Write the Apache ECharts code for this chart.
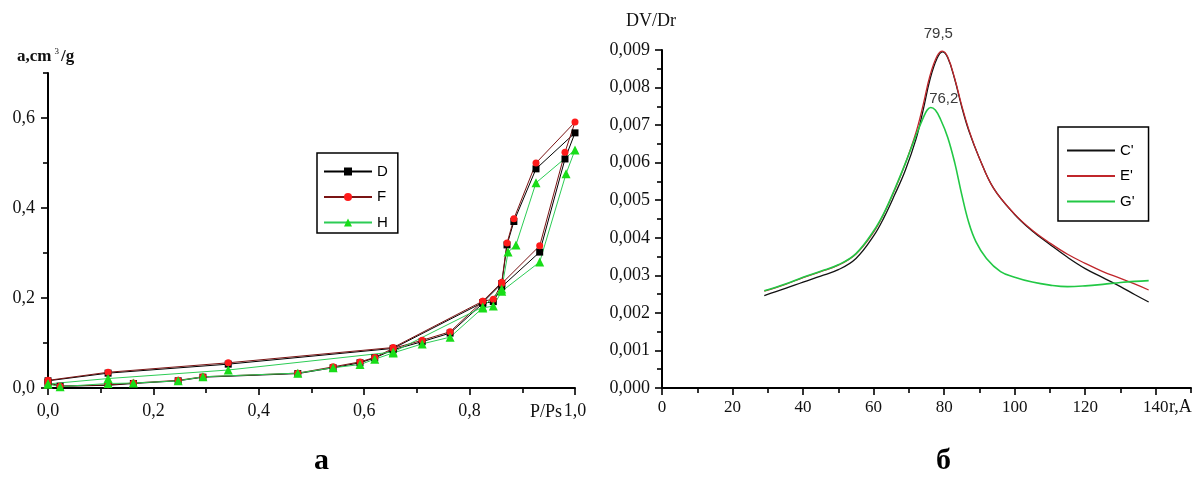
<!DOCTYPE html>
<html>
<head>
<meta charset="utf-8">
<script src="https://cdn.jsdelivr.net/npm/echarts@6/dist/echarts.min.js"></script>
<style>
  html, body { margin: 0; padding: 0; background: #fff; }
  #chart { width: 1203px; height: 482px; }
</style>
</head>
<body>
<div id="chart"></div>
<script>
// ---- Isotherms (panel a): relative pressure P/Ps and adsorbed volume a, cm3/g ----
// Each series runs the adsorption branch up to P/Ps = 1, then the desorption branch back.
const dP = [0, 0.023, 0.114, 0.162, 0.247, 0.294, 0.474, 0.541, 0.592, 0.620, 0.655, 0.710, 0.763, 0.825, 0.845, 0.861, 0.933, 0.981, 1.0, 0.926, 0.884, 0.871, 0.861, 0.825, 0.655, 0.342, 0.114, 0];
const dA = [0.012, 0.004, 0.006, 0.010, 0.016, 0.024, 0.032, 0.045, 0.056, 0.067, 0.085, 0.103, 0.122, 0.188, 0.192, 0.225, 0.302, 0.509, 0.567, 0.487, 0.370, 0.318, 0.232, 0.190, 0.088, 0.053, 0.033, 0.016];
const fP = [0, 0.023, 0.114, 0.162, 0.247, 0.294, 0.474, 0.541, 0.592, 0.620, 0.655, 0.710, 0.763, 0.825, 0.845, 0.861, 0.933, 0.981, 1.0, 0.926, 0.884, 0.871, 0.861, 0.825, 0.655, 0.342, 0.114, 0];
const fA = [0.010, 0.004, 0.007, 0.011, 0.017, 0.025, 0.033, 0.047, 0.058, 0.068, 0.088, 0.106, 0.125, 0.193, 0.197, 0.232, 0.316, 0.524, 0.591, 0.500, 0.376, 0.322, 0.235, 0.193, 0.090, 0.056, 0.035, 0.017];
const hP = [0, 0.023, 0.114, 0.162, 0.247, 0.294, 0.474, 0.541, 0.592, 0.620, 0.655, 0.710, 0.763, 0.825, 0.845, 0.861, 0.933, 0.983, 1.0, 0.926, 0.888, 0.873, 0.861, 0.825, 0.655, 0.342, 0.114, 0];
const hA = [0.009, 0.003, 0.010, 0.011, 0.016, 0.025, 0.033, 0.045, 0.052, 0.064, 0.078, 0.098, 0.113, 0.178, 0.182, 0.215, 0.280, 0.476, 0.529, 0.456, 0.318, 0.302, 0.220, 0.180, 0.080, 0.040, 0.021, 0.009];

// ---- Pore size distribution (panel б): radius r, A and dV/dr ----
const rCE = [29, 35, 40, 45, 50, 55, 60, 63, 66, 69, 72, 74, 76, 78, 79.5, 81, 83, 85, 87, 90, 94, 100, 105, 110, 115, 120, 125, 130, 134, 138];
const vC  = [0.00246, 0.00265, 0.00282, 0.00298, 0.00315, 0.00345, 0.00405, 0.00455, 0.00515, 0.00580, 0.00662, 0.00738, 0.00822, 0.00878, 0.00895, 0.00880, 0.00822, 0.00748, 0.00685, 0.00612, 0.00532, 0.00462, 0.00418, 0.00382, 0.00348, 0.00318, 0.00294, 0.00270, 0.00249, 0.00229];
const vE  = [0.00258, 0.00276, 0.00294, 0.00310, 0.00327, 0.00357, 0.00415, 0.00466, 0.00528, 0.00598, 0.00680, 0.00752, 0.00832, 0.00884, 0.00897, 0.00882, 0.00824, 0.00752, 0.00688, 0.00612, 0.00532, 0.00463, 0.00420, 0.00386, 0.00356, 0.00332, 0.00310, 0.00292, 0.00277, 0.00261];
const rG  = [29, 35, 40, 45, 50, 55, 60, 63, 66, 69, 72, 74, 75.2, 76.2, 77.5, 79, 81, 83, 85, 87, 89, 92, 96, 100, 105, 110, 115, 120, 125, 130, 134, 138];
const vG  = [0.00259, 0.00277, 0.00295, 0.00311, 0.00328, 0.00358, 0.00418, 0.00467, 0.00530, 0.00598, 0.00672, 0.00718, 0.00740, 0.00747, 0.00740, 0.00715, 0.00668, 0.00600, 0.00515, 0.00440, 0.00390, 0.00345, 0.00310, 0.00295, 0.00282, 0.00274, 0.00270, 0.00272, 0.00276, 0.00281, 0.00284, 0.00286];

// Peak radii written above the maxima
const peakCE = 79.5;
const peakG = 76.2;

// ---- Tick positions ----
const leftXTicks  = [0, 0.2, 0.4, 0.6, 0.8, 1.0];
const leftXMinor  = [0.1, 0.3, 0.5, 0.7, 0.9];
const leftYTicks  = [0, 0.2, 0.4, 0.6];
const leftYMinor  = [0.1, 0.3, 0.5, 0.7];
const rightXTicks = [0, 20, 40, 60, 80, 100, 120, 140];
const rightXMinor = [10, 30, 50, 70, 90, 110, 130, 150];
const rightYTicks = [0, 0.001, 0.002, 0.003, 0.004, 0.005, 0.006, 0.007, 0.008, 0.009];
const rightYMinor = [0.0005, 0.0015, 0.0025, 0.0035, 0.0045, 0.0055, 0.0065, 0.0075, 0.0085];

const zip = (xs, ys) => xs.map((x, i) => [x, ys[i]]);
const comma = (v, d) => v.toFixed(d).replace('.', ',');
const SERIF = '"Liberation Serif", "DejaVu Serif", serif';
const SANS = '"Liberation Sans", Arial, sans-serif';
const INK = '#111';
const LINE_ICON = 'path://M0,0 L48,0 L48,2 L0,2 Z';

function majorAxis(gridIndex, position, min, max, ticks, digits, margin, size) {
  return {
    type: 'value', gridIndex, position, min, max,
    axisLine: { show: true, onZero: false, lineStyle: { color: '#000', width: 2 } },
    axisTick: { show: true, customValues: ticks, length: 7, lineStyle: { color: '#000', width: 1.6 } },
    axisLabel: {
      show: true, customValues: ticks, margin,
      formatter: v => comma(v, digits),
      color: INK, fontFamily: SERIF, fontSize: size
    },
    splitLine: { show: false }
  };
}
function minorAxis(gridIndex, position, min, max, ticks) {
  return {
    type: 'value', gridIndex, position, min, max,
    axisLine: { show: false, onZero: false },
    axisTick: { show: true, customValues: ticks, length: 5, lineStyle: { color: '#000', width: 1.6 } },
    axisLabel: { show: false },
    splitLine: { show: false }
  };
}

const peakAt = (rs, vs, r) => vs[rs.indexOf(r)];

const chart = echarts.init(document.getElementById('chart'), null, { renderer: 'canvas' });
chart.setOption({
  animation: false,
  backgroundColor: '#fff',
  grid: [
    { left: 48, top: 73, width: 527, height: 315 },
    { left: 662, top: 50, width: 529, height: 338 }
  ],
  xAxis: [
    majorAxis(0, 'bottom', 0, 1, leftXTicks, 1, 14, 18),
    minorAxis(0, 'bottom', 0, 1, leftXMinor),
    majorAxis(1, 'bottom', 0, 150, rightXTicks, 0, 11, 17),
    minorAxis(1, 'bottom', 0, 150, rightXMinor)
  ],
  yAxis: [
    majorAxis(0, 'left', 0, 0.7, leftYTicks, 1, 13, 18),
    minorAxis(0, 'left', 0, 0.7, leftYMinor),
    majorAxis(1, 'left', 0, 0.009, rightYTicks, 3, 12, 18),
    minorAxis(1, 'left', 0, 0.009, rightYMinor)
  ],
  legend: [
    {
      data: ['D', 'F', 'H'],
      orient: 'vertical', left: 317, top: 153,
      padding: [11, 10, 3, 6], itemGap: 10.5, itemWidth: 48, itemHeight: 10,
      borderColor: '#000', borderWidth: 1.5,
      textStyle: { fontFamily: SANS, fontSize: 15, color: '#000' }
    },
    {
      data: [
        { name: "C'", icon: LINE_ICON },
        { name: "E'", icon: LINE_ICON },
        { name: "G'", icon: LINE_ICON }
      ],
      orient: 'vertical', left: 1058, top: 127,
      padding: [16, 14, 12, 9], itemGap: 10.5, itemWidth: 48, itemHeight: 2,
      borderColor: '#000', borderWidth: 1.5,
      textStyle: { fontFamily: SANS, fontSize: 15, color: '#000' }
    }
  ],
  series: [
    {
      name: 'D', type: 'line', xAxisIndex: 0, yAxisIndex: 0, data: zip(dP, dA),
      symbol: 'rect', symbolSize: 7,
      lineStyle: { color: '#000', width: 1 }, itemStyle: { color: '#000' }
    },
    {
      name: 'F', type: 'line', xAxisIndex: 0, yAxisIndex: 0, data: zip(fP, fA),
      symbol: 'circle', symbolSize: 7,
      lineStyle: { color: '#7a1414', width: 1 }, itemStyle: { color: '#ff1a1a' }
    },
    {
      name: 'H', type: 'line', xAxisIndex: 0, yAxisIndex: 0, data: zip(hP, hA),
      symbol: 'triangle', symbolSize: 9,
      lineStyle: { color: '#2ccc55', width: 1 }, itemStyle: { color: '#18dd18' }
    },
    {
      name: "C'", type: 'line', xAxisIndex: 2, yAxisIndex: 2, data: zip(rCE, vC),
      symbol: 'none', smooth: 0.4,
      lineStyle: { color: '#111', width: 1.3 }, itemStyle: { color: '#111' },
      markPoint: {
        symbol: 'circle', symbolSize: 1, itemStyle: { color: 'rgba(0,0,0,0)' },
        label: {
          show: true, formatter: () => comma(peakCE, 1), offset: [-4, -18],
          color: '#3a3a3a', fontFamily: SANS, fontSize: 15
        },
        data: [{ coord: [peakCE, peakAt(rCE, vC, peakCE)] }]
      }
    },
    {
      name: "E'", type: 'line', xAxisIndex: 2, yAxisIndex: 2, data: zip(rCE, vE),
      symbol: 'none', smooth: 0.4,
      lineStyle: { color: '#c0262b', width: 1.3 }, itemStyle: { color: '#c0262b' }
    },
    {
      name: "G'", type: 'line', xAxisIndex: 2, yAxisIndex: 2, data: zip(rG, vG),
      symbol: 'none', smooth: 0.4,
      lineStyle: { color: '#22c845', width: 1.6 }, itemStyle: { color: '#22c845' },
      markPoint: {
        symbol: 'circle', symbolSize: 1, itemStyle: { color: 'rgba(0,0,0,0)' },
        label: {
          show: true, formatter: () => comma(peakG, 1), offset: [13, -9],
          color: '#3a3a3a', fontFamily: SANS, fontSize: 15
        },
        data: [{ coord: [peakG, peakAt(rG, vG, peakG)] }]
      }
    }
  ],
  graphic: [
    {
      type: 'text', left: 17, top: 47,
      style: {
        text: '{b|a,cm}{s|3}{b|/g}',
        rich: {
          b: { fontFamily: SERIF, fontSize: 17, fontWeight: 'bold', fill: INK },
          s: { fontFamily: SERIF, fontSize: 9, fill: INK, padding: [0, 2, 10, 3] }
        }
      }
    },
    {
      type: 'text', right: 1203 - 562, top: 403,
      style: { text: 'P/Ps', fontFamily: SERIF, fontSize: 18, fill: INK }
    },
    {
      type: 'text', left: 626, top: 12,
      style: { text: 'DV/Dr', fontFamily: SERIF, fontSize: 18, fill: INK }
    },
    {
      type: 'text', left: 1169, top: 398,
      style: { text: 'r,A', fontFamily: SERIF, fontSize: 18, fill: INK }
    },
    {
      type: 'text', left: 314, top: 446,
      style: { text: 'а', fontFamily: SERIF, fontSize: 30, fontWeight: 'bold', fill: '#000' }
    },
    {
      type: 'text', left: 936, top: 446,
      style: { text: 'б', fontFamily: SERIF, fontSize: 30, fontWeight: 'bold', fill: '#000' }
    }
  ]
});
</script>
</body>
</html>
